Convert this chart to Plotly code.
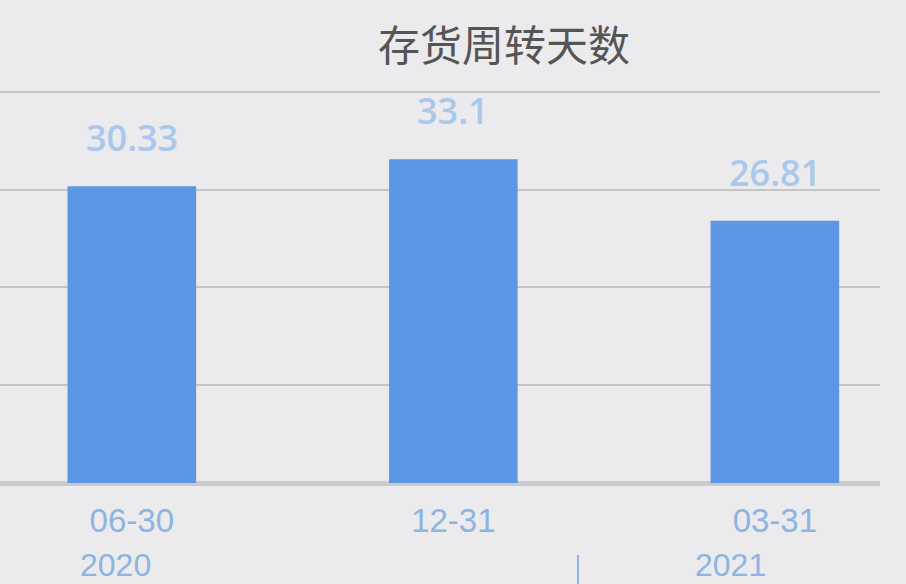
import plotly.graph_objects as go

# data
categories = ["06-30", "12-31", "03-31"]
values = [30.33, 33.1, 26.81]
year_labels = ["2020", "2021"]
title_text = "存货周转天数"

bg = "#ebeaec"
bar_color = "#5b97e4"
label_color = "#a9c8ec"
tick_color = "#8db4e2"

fig = go.Figure()
fig.add_trace(go.Bar(
    x=list(range(len(categories))),
    y=values,
    width=0.4,
    marker=dict(color=bar_color, line=dict(width=0)),
    hoverinfo="skip",
))

# value labels floating above the bars
for i, v in enumerate(values):
    fig.add_annotation(
        x=i, y=v, text=str(v), showarrow=False,
        xanchor="center", yanchor="bottom", yshift=22,
        font=dict(family="Open Sans", size=36, weight=600, color=label_color),
    )

# year labels under the ticks, plus the little separator
fig.add_annotation(x=115 / 880, y=-82 / 483, xref="paper", yref="paper", text=year_labels[0],
                   showarrow=False, xanchor="center", yanchor="middle",
                   font=dict(family="Liberation Sans", size=32, color=tick_color))
fig.add_annotation(x=730 / 880, y=-82 / 483, xref="paper", yref="paper", text=year_labels[1],
                   showarrow=False, xanchor="center", yanchor="middle",
                   font=dict(family="Liberation Sans", size=32, color=tick_color))
fig.add_shape(type="line", xref="paper", yref="paper",
              x0=578 / 880, x1=578 / 880, y0=-72 / 483, y1=-101 / 483,
              line=dict(color=tick_color, width=2))

# title
fig.add_annotation(x=504 / 880, y=(483 - 42) / 483, xref="paper", yref="paper",
                   text=title_text, showarrow=False, xanchor="center", yanchor="middle",
                   font=dict(family="Noto Sans CJK SC", size=42, color="#555555"))

fig.update_layout(
    width=906, height=584,
    margin=dict(l=0, r=26, t=0, b=101),
    paper_bgcolor=bg, plot_bgcolor=bg,
    showlegend=False,
    xaxis=dict(
        range=[-0.41, 2.327],
        tickvals=list(range(len(categories))),
        ticktext=categories,
        ticks="outside", ticklen=8, tickcolor="rgba(0,0,0,0)",
        tickfont=dict(family="Liberation Sans", size=33, color=tick_color),
        showgrid=False, zeroline=False, showline=False,
    ),
    yaxis=dict(
        range=[0, 483 / 9.78],
        tickvals=[10, 20, 30, 40],
        showticklabels=False,
        showgrid=True, gridcolor="#c4c4c6", gridwidth=1.5,
        zeroline=True, zerolinecolor="#cacacc", zerolinewidth=5,
        showline=False,
    ),
)

fig.write_html("out.html", config={"displayModeBar": False},
               post_script="document.body.style.margin='0';")
